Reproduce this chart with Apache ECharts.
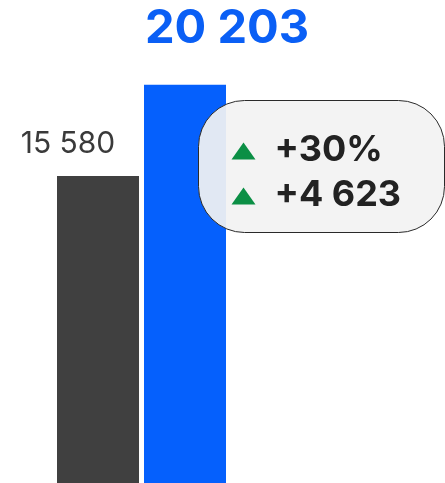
<!DOCTYPE html>
<html>
<head>
<meta charset="utf-8">
<script src="https://cdn.jsdelivr.net/npm/echarts@6/dist/echarts.min.js"></script>
<style>
html,body{margin:0;padding:0;background:#fff;}
#chart{width:445px;height:483px;}
</style>
</head>
<body>
<div id="chart"></div>
<script>
var categories = ['Previous', 'Current'];
var values = [15580, 20203];
var valueLabels = ['15 580', '20 203'];
var changeLabels = ['+30%', '+4 623'];

var FONT = 'Inter, "Liberation Sans", sans-serif';
var chart = echarts.init(document.getElementById('chart'), null, {renderer: 'canvas'});

var styles = [
  {color: '#404040', label: {color: '#3a3a3a', fontSize: 30, fontWeight: 'normal', offset: [-30, -12]}},
  {color: '#0560fd', label: {color: '#0a5ff5', fontSize: 47, fontWeight: 'bold', offset: [42, -27]}}
];

var data = values.map(function (v, i) {
  return {
    value: v,
    itemStyle: {color: styles[i].color},
    label: {
      show: true,
      position: 'top',
      distance: 5,
      formatter: valueLabels[i],
      color: styles[i].label.color,
      fontSize: styles[i].label.fontSize,
      fontWeight: styles[i].label.fontWeight,
      fontFamily: FONT,
      offset: styles[i].label.offset
    }
  };
});

var boxChildren = [{
  type: 'rect',
  z: 100,
  shape: {x: 0, y: 0, width: 246, height: 132, r: 46},
  style: {fill: 'rgba(242,242,242,0.93)', stroke: '#2a2a2a', lineWidth: 1}
}];
changeLabels.forEach(function (txt, i) {
  var y = 42 + i * 45;
  boxChildren.push({
    type: 'polygon',
    z: 101,
    shape: {points: [[33, y + 17], [57, y + 17], [45, y]]},
    style: {fill: '#0b8f45'}
  });
  boxChildren.push({
    type: 'text',
    z: 101,
    x: 76,
    y: y + 8,
    style: {
      text: txt,
      fill: '#222',
      fontSize: 36,
      fontWeight: 'bold',
      fontFamily: FONT,
      verticalAlign: 'middle',
      align: 'left'
    }
  });
});

chart.setOption({
  animation: false,
  grid: {left: 54.5, right: 216.5, top: 10, bottom: 0},
  xAxis: {type: 'category', data: categories, show: false},
  yAxis: {type: 'value', min: 0, max: 24000, show: false},
  series: [{
    type: 'bar',
    data: data,
    barWidth: 82
  }],
  graphic: [{
    type: 'group',
    left: 198,
    top: 100,
    z: 100,
    children: boxChildren
  }]
});
</script>
</body>
</html>
